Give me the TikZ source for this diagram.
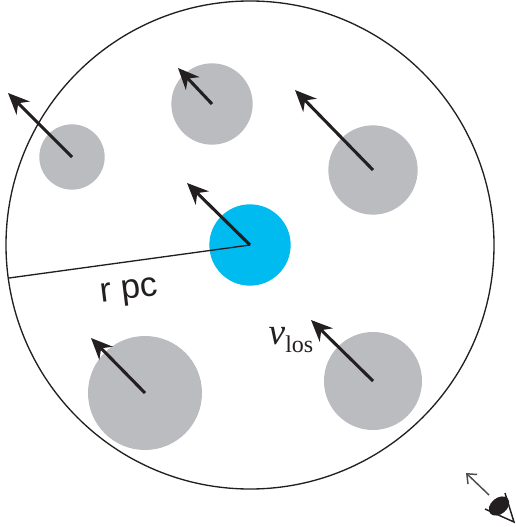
\documentclass[tikz,border=0pt]{standalone}
\usepackage{fontspec}
\setmainfont{Liberation Serif}
\setsansfont{Liberation Sans}
\usetikzlibrary{arrows.meta, positioning, calc}
\definecolor{cloudgrey}{RGB}{186,188,192}
\definecolor{coreblue}{RGB}{0,187,240}
\definecolor{inkblack}{RGB}{35,31,32}

\begin{document}
\begin{tikzpicture}[
	x=.75pt, y=-.75pt,
	greydisc/.style={circle, fill=cloudgrey, inner sep=0pt},
	bluedisc/.style={circle, fill=coreblue, inner sep=0pt, minimum size=61pt},
	boundary/.style={circle, draw=inkblack, line width=1pt, inner sep=0pt, minimum size=366pt},
	arrow/.style={-{Stealth[length=16pt, width=14pt]}, line width=2.3pt, inkblack},
	radius line/.style={draw=inkblack, line width=1pt},
	sightline/.style={-{Straight Barb[length=6pt, width=10pt]}, line width=1.1pt, inkblack!80},
	every node/.style={align=center}
	]
	\useasboundingbox (0,0) rectangle (515,527);
	\node[boundary] (halo) at (250,245) {};
	\node[greydisc, minimum size=49pt] (sat-a) at (72,157) {};
	\node[greydisc, minimum size=61pt] (sat-b) at (212,104) {};
	\node[greydisc, minimum size=67pt] (sat-c) at (373,170) {};
	\node[greydisc, minimum size=85.5pt] (sat-d) at (145,393) {};
	\node[greydisc, minimum size=73.5pt] (sat-e) at (373,381) {};
	\node[bluedisc] (core) at (250,245) {};
	
	\coordinate (tip-a) at (8,93);
	\coordinate (tip-b) at (178,68);
	\coordinate (tip-c) at (295,90);
	\coordinate (tip-d) at (91,338);
	\coordinate (tip-e) at (311,320);
	\coordinate (tip-core) at (187,183);
	\coordinate (rim) at (9,278);
	\draw[radius line] (core.center) -- (rim);
	
	\draw[arrow] (sat-a.center) -- (tip-a);
	\draw[arrow] (sat-b.center) -- (tip-b);
	\draw[arrow] (sat-c.center) -- (tip-c);
	\draw[arrow] (sat-d.center) -- (tip-d);
	\draw[arrow] (sat-e.center) -- (tip-e);
	\draw[arrow] (core.center) -- (tip-core);
	
	\node[rotate=7, font=\sffamily\fontsize{26}{26}\selectfont, inkblack] (rlabel) at (129,293) {r pc};
	\node[font=\fontsize{28}{28}\selectfont, inkblack] (vlabel) at (291,340) {\textit{v}\raisebox{-6pt}{\fontsize{18}{18}\selectfont los}};
	
	% eye at lower right
	\node[circle, inner sep=0pt, minimum size=1pt] (eye) at (499,506) {};
	\fill[inkblack] (eye) ellipse [x radius=11.5, y radius=8, rotate=40];
	\coordinate (lid-a) at (485,509);
	\coordinate (lid-b) at (505,493);
	\coordinate (lid-c) at (514,522);
	\coordinate (look-start) at (489,495);
	\coordinate (look-end) at (466,473);
	\draw[line width=1.1pt, inkblack] (lid-a) -- (lid-c) -- (lid-b);
	\draw[sightline] (look-start) -- (look-end);
\end{tikzpicture}
\end{document}
